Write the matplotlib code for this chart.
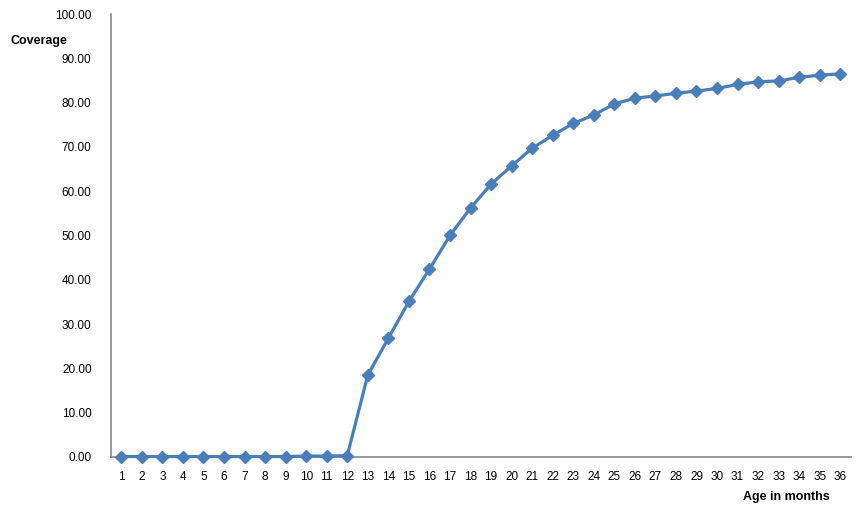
import numpy as np
import matplotlib
matplotlib.use("Agg")
import matplotlib.pyplot as plt

plt.rcParams['font.family'] = ['Liberation Sans', 'DejaVu Sans']

# data
months = list(range(1, 37))
coverage = [0.1, 0.1, 0.1, 0.1, 0.1, 0.1, 0.1, 0.1, 0.1, 0.2, 0.2, 0.3,
            18.5, 26.8, 35.1, 42.4, 50.0, 56.2, 61.6, 65.7, 69.7, 72.6,
            75.3, 77.2, 79.7, 81.0, 81.5, 82.1, 82.6, 83.2, 84.1, 84.7,
            84.9, 85.7, 86.2, 86.5]
yticks = np.arange(0, 101, 10)

blue = "#4A7EBB"
grey = "#888888"

fig = plt.figure(figsize=(8.62, 5.17), dpi=100)
ax = fig.add_axes([0.1288, 0.1161, 0.8579, 0.8568])

ax.plot(months, coverage, '-', color=blue, lw=2.3, marker='D', markersize=6,
        clip_on=False, zorder=5)

ax.set_xlim(0.5, 36.5)
ax.set_ylim(0, 100)
ax.set_xticks(months)
ax.set_xticklabels([str(m) for m in months])
ax.set_yticks(yticks)
ax.set_yticklabels(["%.2f" % v for v in yticks])
ax.tick_params(axis='both', length=0, labelsize=8.5, colors='black')
ax.tick_params(axis='y', pad=14)
ax.tick_params(axis='x', pad=10)

for s in ['top', 'right']:
    ax.spines[s].set_visible(False)
for s in ['left', 'bottom']:
    ax.spines[s].set_color(grey)
    ax.spines[s].set_linewidth(1.2)

fig.text(11/862, 1 - 41/517, "Coverage", fontsize=9, fontweight='bold', va='center', ha='left')
fig.text(830/862, 1 - 497/517, "Age in months", fontsize=9, fontweight='bold', va='center', ha='right')

plt.savefig("out.png", dpi=100)
